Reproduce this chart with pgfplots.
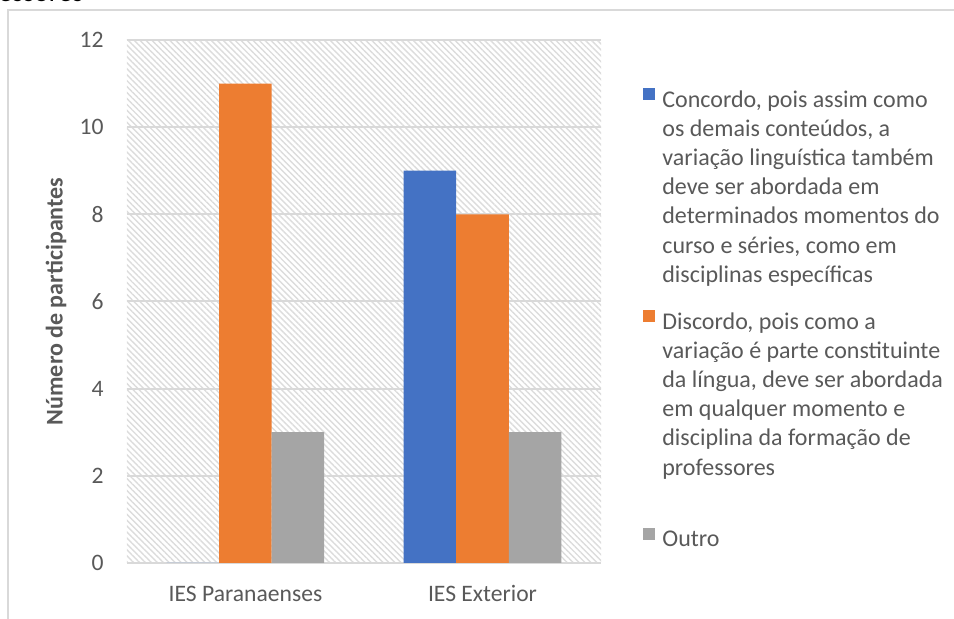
\documentclass[border=0pt]{standalone}
\usepackage{pgfplots}
\pgfplotsset{compat=1.18}
\usepackage{fontspec}
\setmainfont{Carlito}
\usetikzlibrary{patterns.meta}
\definecolor{cblue}{HTML}{4472C4}
\definecolor{corange}{HTML}{ED7D31}
\definecolor{cgray}{HTML}{A5A5A5}
\definecolor{txt}{HTML}{595959}
\definecolor{gridc}{HTML}{D9D9D9}
\definecolor{hatch}{HTML}{DCDCDC}
\begin{document}
\begin{tikzpicture}
\begin{axis}[
  at={(0,0)}, anchor=south west,
  scale only axis, width=237pt, height=261.5pt,
  ybar=0pt, bar width=26.25pt,
  xmin=-0.5, xmax=1.5, ymin=0, ymax=12,
  xtick={0,1}, xticklabels={IES Paranaenses, IES Exterior},
  ytick={0,2,4,6,8,10,12},
  major tick length=0pt,
  axis line style={draw=none},
  ymajorgrids, grid style={gridc, line width=1pt},
  axis background/.style={pattern={Lines[angle=-45,distance=2.1pt,line width=0.7pt]}, pattern color=hatch},
  /pgf/number format/assume math mode=true,
  ticklabel style={font=\fontsize{11.8}{13}\selectfont, text=txt},
  yticklabel style={anchor=east, inner sep=0pt, xshift=-11.5pt},
  xticklabel style={anchor=base, inner sep=0pt, yshift=-19.5pt},
  ylabel={Número de participantes},
  ylabel style={at={(axis description cs:-0.1498,0.5)}, anchor=center, font=\fontsize{12}{13}\selectfont\bfseries, text=txt},
  legend cell align=left,
  legend style={draw=none, fill=none, at={(axis description cs:1.0886,0.9086)}, anchor=north west, inner sep=0pt, row sep=0pt, column sep=3.5pt, nodes={inner sep=0pt, text=txt, font=\fontsize{12}{14.6}\selectfont}},
]
\addplot[fill=cblue, draw=none, legend image code/.code={\fill[cblue] (0pt,0pt) rectangle (6pt,6pt); \path (0pt,-105pt);}] coordinates {(0,0) (1,9)};
\addplot[fill=corange, draw=none, legend image code/.code={\fill[corange] (0pt,0pt) rectangle (6pt,6pt); \path (0pt,-103pt);}] coordinates {(0,11) (1,8)};
\addplot[fill=cgray, draw=none, legend image code/.code={\fill[cgray] (0pt,0pt) rectangle (6pt,6pt);}] coordinates {(0,3) (1,3)};
\addlegendentry{\parbox[t]{180pt}{\raggedright Concordo, pois assim como\newline os demais conteúdos, a\newline variação linguística também\newline deve ser abordada em\newline determinados momentos do\newline curso e séries, como em\newline disciplinas específicas}}
\addlegendentry{\parbox[t]{180pt}{\raggedright Discordo, pois como a\newline variação é parte constituinte\newline da língua, deve ser abordada\newline em qualquer momento e\newline disciplina da formação de\newline professores}}
\addlegendentry{Outro}
\end{axis}
\pgfresetboundingbox
\useasboundingbox (-63.5pt,-28pt) rectangle (413.5pt,281.5pt);
\draw[gridc, line width=1pt] (-59.5pt,-40pt) -- (-59.5pt,276.5pt) -- (430pt,276.5pt);
\node[anchor=base west, inner sep=0pt, font=\fontsize{14}{16}\selectfont] at (-64.5pt,280.5pt) {essores};
\end{tikzpicture}
\end{document}
